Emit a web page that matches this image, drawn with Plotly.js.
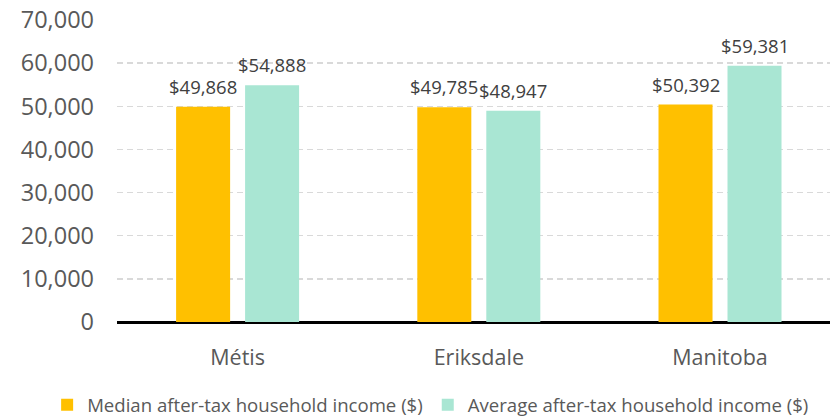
<!DOCTYPE html>
<html>
<head>
<meta charset="utf-8">
<script src="https://cdn.plot.ly/plotly-3.0.1.min.js"></script>
<style>html,body{margin:0;padding:0;background:#fff;}#chart{width:833px;height:419px;}</style>
</head>
<body>
<div id="chart"></div>
<script>
const categories = ["Métis", "Eriksdale", "Manitoba"];
const seriesNames = ["Median after-tax household income ($)", "Average after-tax household income ($)"];
const medianIncome = [49868, 49785, 50392];
const averageIncome = [54888, 48947, 59381];
const yTickValues = [0, 10000, 20000, 30000, 40000, 50000, 60000, 70000];

const colors = ["#FFC000", "#A9E6D3"];
const FONT = "Open Sans, Noto Sans, sans-serif";
const bargap = 0.428;
const slot = (1 - bargap) / 2;

const seriesValues = [medianIncome, averageIncome];
const traces = seriesValues.map((vals, i) => ({
  type: "bar",
  name: seriesNames[i],
  x: categories.map((c, j) => j),
  y: vals,
  marker: {color: colors[i], line: {width: 0}},
  hoverinfo: "skip"
}));

const annotations = [];
seriesValues.forEach((vals, i) => {
  vals.forEach((v, j) => {
    annotations.push({
      xref: "x", yref: "y",
      x: j + (i === 0 ? -1 : 1) * slot / 2,
      y: v,
      text: "$" + v.toLocaleString("en-US"),
      showarrow: false,
      xanchor: "center", yanchor: "bottom",
      yshift: 6,
      font: {family: FONT, size: 18.5, color: "#404040"}
    });
  });
});

const layout = {
  width: 833, height: 419,
  margin: {l: 117, r: 3, t: 20, b: 97, autoexpand: false},
  paper_bgcolor: "#fff", plot_bgcolor: "#fff",
  barmode: "group",
  bargap: bargap,
  bargroupgap: 0.217,
  showlegend: true,
  legend: {
    orientation: "h",
    xref: "paper", yref: "paper",
    x: -0.098, xanchor: "left",
    y: -0.275, yanchor: "middle",
    font: {family: FONT, size: 18.6, color: "#595959"},
    traceorder: "normal"
  },
  xaxis: {
    type: "linear",
    range: [-0.5, 2.456],
    tickvals: categories.map((c, j) => j),
    ticktext: categories,
    showgrid: false, zeroline: false,
    showline: false,
    ticks: "",
    ticklabelstandoff: 20,
    tickfont: {family: FONT, size: 21.5, color: "#595959"},
    fixedrange: true
  },
  yaxis: {
    range: [0, 70000],
    tickvals: yTickValues,
    ticktext: yTickValues.map(v => v.toLocaleString("en-US")),
    showgrid: true,
    gridcolor: "#d9d9d9",
    gridwidth: 1.3,
    griddash: "6px,4px",
    zeroline: true,
    zerolinecolor: "#000",
    zerolinewidth: 3,
    showline: false,
    ticks: "",
    ticklabelstandoff: 22,
    tickfont: {family: FONT, size: 23.5, color: "#595959"},
    fixedrange: true
  },
  annotations: annotations
};

Plotly.newPlot("chart", traces, layout, {displayModeBar: false, staticPlot: true});
</script>
</body>
</html>
